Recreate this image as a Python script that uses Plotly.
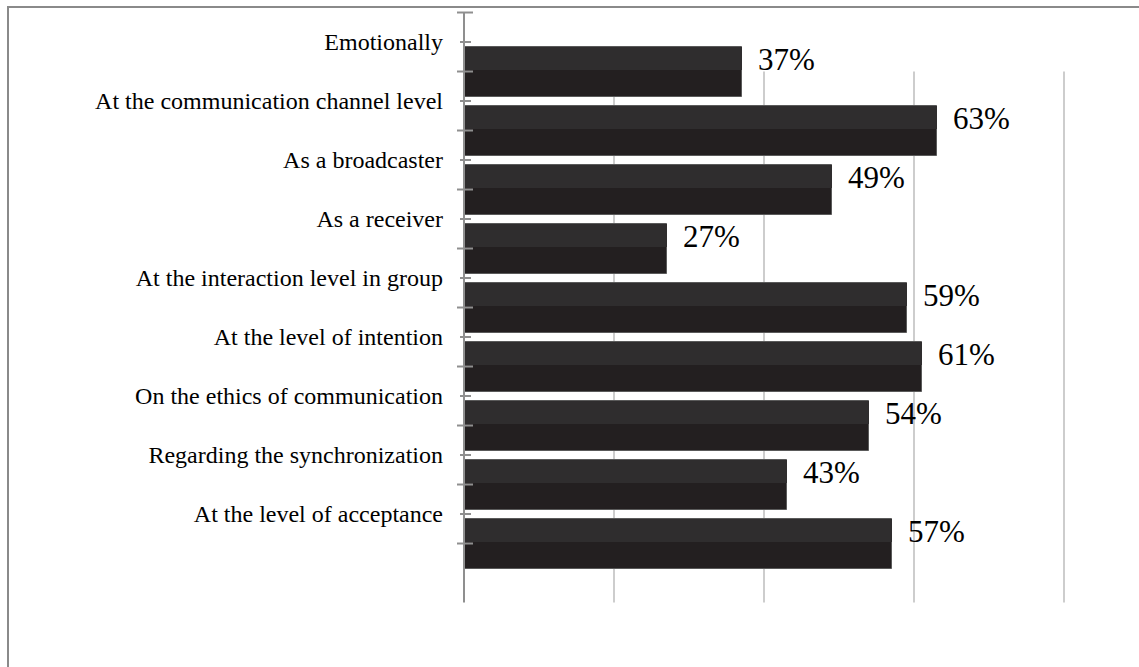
import plotly.graph_objects as go

# Survey results: share of respondents per communication aspect
categories = [
    "Emotionally",
    "At the communication channel level",
    "As a broadcaster",
    "As a receiver",
    "At the interaction level in group",
    "At the level of intention",
    "On the ethics of communication",
    "Regarding the synchronization",
    "At the level of acceptance",
]
values = [37, 63, 49, 27, 59, 61, 54, 43, 57]
grid_values = [20, 40, 60, 80]

W, H = 1139, 667
SERIF = "Times New Roman, Liberation Serif, serif"
pos = list(range(len(categories)))
bar_w = 0.847
top_w = 0.39

fig = go.Figure()

# darker full bar (lower face)
fig.add_trace(go.Bar(
    x=values, y=pos, orientation="h", width=bar_w,
    marker=dict(color="#231f20", line=dict(color="#5a5a5a", width=1)),
    hoverinfo="skip", showlegend=False,
))
# lighter upper band giving the bevelled look
fig.add_trace(go.Bar(
    x=values, y=pos, orientation="h", width=top_w, offset=-bar_w / 2,
    marker=dict(color="#2f2d2e", line=dict(width=0)),
    hoverinfo="skip", showlegend=False,
))

shapes = []
# vertical gridlines on the back wall
for g in grid_values:
    shapes.append(dict(type="line", xref="x", yref="y", x0=g, x1=g, y0=0, y1=9,
                       line=dict(color="#cdcdcd", width=2), layer="below"))
# category axis line
shapes.append(dict(type="line", xref="x", yref="y", x0=0, x1=0, y0=-1, y1=9,
                   line=dict(color="#8f8f8f", width=2), layer="above"))
# axis tick marks: long at centres, short at boundaries
for i in range(-1, len(categories)):
    shapes.append(dict(type="line", xref="x", yref="y", xsizemode="pixel", xanchor=0,
                       x0=-7, x1=9, y0=i, y1=i,
                       line=dict(color="#8f8f8f", width=2)))
for i in range(len(categories)):
    b = i - 0.5
    shapes.append(dict(type="line", xref="x", yref="y", xsizemode="pixel", xanchor=0,
                       x0=-4, x1=7, y0=b, y1=b,
                       line=dict(color="#8f8f8f", width=2)))
# chart frame
shapes.append(dict(type="rect", xref="paper", yref="paper",
                   x0=8 / W, x1=1.05, y0=-0.05, y1=1 - 7 / H,
                   line=dict(color="#8a8a8a", width=2), fillcolor="rgba(0,0,0,0)",
                   layer="below"))

annotations = []
for p, v in zip(pos, values):
    annotations.append(dict(
        x=v, y=p, xref="x", yref="y", text=f"{v}%", showarrow=False,
        xanchor="left", yanchor="middle", xshift=14, yshift=12,
        font=dict(family=SERIF, size=31, color="#000000"),
    ))

fig.update_layout(
    width=W, height=H,
    margin=dict(l=0, r=0, t=0, b=0),
    paper_bgcolor="#ffffff", plot_bgcolor="rgba(0,0,0,0)",
    barmode="overlay", bargap=0,
    shapes=shapes, annotations=annotations,
    font=dict(family=SERIF, color="#000000"),
    xaxis=dict(domain=[449 / W, 1], range=[-2, 90], showgrid=False, zeroline=False,
               showticklabels=False, showline=False, ticks=""),
    yaxis=dict(range=[10.093, -1.212], tickmode="array",
               tickvals=[i - 0.5 for i in pos], ticktext=categories,
               showgrid=False, zeroline=False, showline=False, ticks="",
               ticklabelstandoff=5,
               tickfont=dict(family=SERIF, size=24, color="#000000")),
)

fig.write_html("out.html")
